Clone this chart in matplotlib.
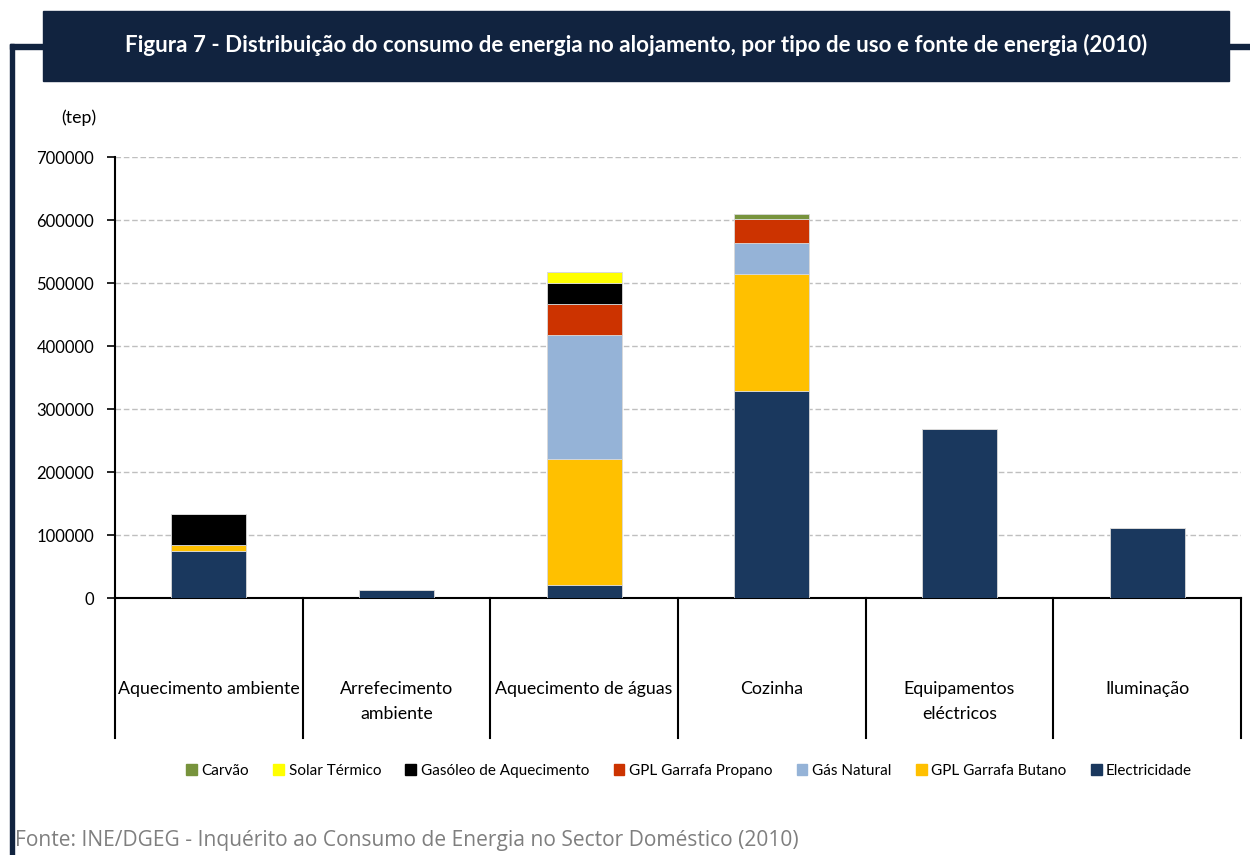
import matplotlib
matplotlib.use("Agg")
import matplotlib.pyplot as plt
from matplotlib.patches import Rectangle
from matplotlib.lines import Line2D
from matplotlib.transforms import blended_transform_factory
import numpy as np

categories = ["Aquecimento ambiente", "Arrefecimento\nambiente", "Aquecimento de águas",
              "Cozinha", "Equipamentos\neléctricos", "Iluminação"]

electricidade = [74000, 13000, 20000, 329000, 268000, 110500]
gpl_butano    = [10000, 0, 200000, 185000, 0, 0]
gas_natural   = [0, 0, 197000, 49000, 0, 0]
gpl_propano   = [0, 0, 49000, 38500, 0, 0]
gasoleo       = [49000, 0, 34000, 0, 0, 0]
solar         = [0, 0, 17000, 0, 0, 0]
carvao        = [0, 0, 0, 8000, 0, 0]

series = [
    ("Electricidade", electricidade, "#1A385E"),
    ("GPL Garrafa Butano", gpl_butano, "#FFC000"),
    ("Gás Natural", gas_natural, "#95B3D7"),
    ("GPL Garrafa Propano", gpl_propano, "#CC3300"),
    ("Gasóleo de Aquecimento", gasoleo, "#000000"),
    ("Solar Térmico", solar, "#FFFF00"),
    ("Carvão", carvao, "#77933C"),
]
legend_order = ["Carvão", "Solar Térmico", "Gasóleo de Aquecimento", "GPL Garrafa Propano",
                "Gás Natural", "GPL Garrafa Butano", "Electricidade"]

W, H = 1250, 855
fig = plt.figure(figsize=(W / 100, H / 100), dpi=100)
FONT = ["Lato", "DejaVu Sans"]
plt.rcParams['font.family'] = FONT

def fx(px):
    return px / W

def fy(py):
    return 1 - py / H

# Axes
x0, x1, ytop, ybot = 115, 1241, 157, 598
ax = fig.add_axes([fx(x0), fy(ybot), fx(x1) - fx(x0), fy(ytop) - fy(ybot)])
x = np.arange(len(categories))
bottom = np.zeros(len(categories))
for name, vals, col in series:
    v = np.array(vals, dtype=float)
    ax.bar(x, v, width=0.4, bottom=bottom, color=col, edgecolor="#D9D9D9",
           linewidth=0.6, zorder=3, label=name)
    bottom += v

ax.set_xlim(-0.5, len(categories) - 0.5)
ax.set_ylim(0, 700000)
ax.set_yticks(np.arange(0, 700001, 100000))
ax.set_yticklabels([f"{int(t)}" for t in np.arange(0, 700001, 100000)], fontsize=12)
ax.tick_params(axis='y', direction='out', length=6, width=1.2, pad=9, color='black')
ax.set_xticks([])
for s in ["top", "right"]:
    ax.spines[s].set_visible(False)
ax.spines["left"].set_linewidth(1.5)
ax.spines["bottom"].set_linewidth(1.5)
ax.grid(axis='y', color="#BFBFBF", linestyle=(0, (4, 2)), linewidth=1, zorder=0)
ax.set_axisbelow(True)

# category separators and labels
trans = blended_transform_factory(ax.transData, ax.transAxes)
sep_bottom = -(738 - 598) / (598 - 157)
for b in np.arange(-0.5, len(categories), 1.0):
    ax.add_line(Line2D([b, b], [0, sep_bottom], transform=trans, color="black",
                       linewidth=1.5, clip_on=False))
lab_y = -(681 - 598) / (598 - 157)
for i, c in enumerate(categories):
    ax.text(i, lab_y, c, transform=trans, ha='center', va='top', fontsize=12.8,
            linespacing=1.7)

# (tep)
fig.text(fx(79), fy(118), "(tep)", ha='center', va='center', fontsize=12.8)

# legend
handles = {name: Rectangle((0, 0), 1, 1, color=col) for name, vals, col in series}
leg = fig.legend([handles[n] for n in legend_order], legend_order, loc='center',
                 bbox_to_anchor=(fx(689), fy(771)), ncol=7, frameon=False,
                 fontsize=11, handlelength=0.7, handleheight=0.7, handletextpad=0.3,
                 columnspacing=1.6)

# frame and title box
box_col = "#11233F"
fig.patches.append(Rectangle((fx(43), fy(81)), fx(1229) - fx(43), fy(11) - fy(81),
                             transform=fig.transFigure, color=box_col, zorder=0))
fig.patches.append(Rectangle((fx(9.5), fy(855)), fx(4), fy(44) - fy(855),
                             transform=fig.transFigure, color=box_col, zorder=0))
fig.patches.append(Rectangle((fx(9.5), fy(49)), fx(43) - fx(9.5), fy(44) - fy(49),
                             transform=fig.transFigure, color=box_col, zorder=0))
fig.patches.append(Rectangle((fx(1229), fy(49)), fx(1250) - fx(1229), fy(44) - fy(49),
                             transform=fig.transFigure, color=box_col, zorder=0))

renderer = fig.canvas.get_renderer()

def fit_text(t, target_w):
    for _ in range(3):
        w = t.get_window_extent(renderer=renderer).width
        t.set_fontsize(t.get_fontsize() * target_w / w)

title = fig.text(fx((125 + 1148) / 2), fy(45), "Figura 7 - Distribuição do consumo de energia no alojamento, por tipo de uso e fonte de energia (2010)",
                 ha='center', va='center', color='white', fontweight='bold', fontsize=14)
fit_text(title, 1148 - 125)

footer = fig.text(fx(15), fy(840), "Fonte: INE/DGEG - Inquérito ao Consumo de Energia no Sector Doméstico (2010)",
                  ha='left', va='center', color='#7F7F7F', fontsize=13,
                  family=["Open Sans", "DejaVu Sans"])
fit_text(footer, 800 - 15)

fig.savefig("out.png", dpi=100)
